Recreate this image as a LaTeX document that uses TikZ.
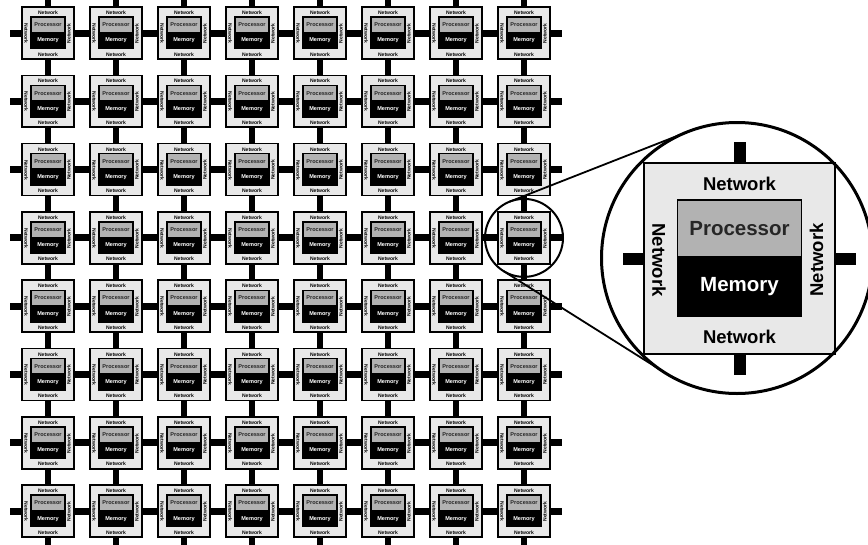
\documentclass[tikz,border=0pt]{standalone}
\usepackage{fontspec}
\setmainfont{Liberation Sans}
\usetikzlibrary{positioning,calc}

\definecolor{tilegray}{gray}{0.91}
\definecolor{procgray}{gray}{0.70}

% one processing element, drawn at (0,0) at full size
\newcommand{\cputile}[1]{%
  \node[tilebox] (#1) at (0,0) {};
  \node[procbox] (#1-proc) at (0,-30) {Processor};
  \node[membox, below=0pt of #1-proc] (#1-mem) {Memory};
  \node[netlabel] (#1-nt) at (0,-74.5) {Network};
  \node[netlabel] (#1-nb) at (0,78) {Network};
  \node[netlabel, rotate=-90] (#1-nl) at (-80.5,1.5) {Network};
  \node[netlabel, rotate=90] (#1-nr) at (77,1.5) {Network};
}

\begin{document}
\begin{tikzpicture}[
  x=1pt, y=-1pt,
  tilebox/.style={draw, fill=tilegray, line width=1.6pt, inner sep=0pt,
                  outer sep=0pt, minimum size=191pt},
  procbox/.style={draw, fill=procgray, line width=1.4pt, inner sep=0pt,
                  outer sep=0pt, minimum width=124pt, minimum height=57pt,
                  text=black!85, font=\fontsize{20.5}{22}\selectfont\bfseries},
  membox/.style={draw, fill=black, line width=1.4pt, inner sep=0pt,
                 outer sep=0pt, minimum width=124pt, minimum height=59pt,
                 text=white, font=\fontsize{20.5}{22}\selectfont\bfseries},
  netlabel/.style={inner sep=0pt, font=\fontsize{18.5}{20}\selectfont\bfseries},
  hlink/.style={line width=7pt},
  vlink/.style={line width=5.5pt},
  bigstub/.style={line width=12pt},
  lens/.style={draw, circle, inner sep=0pt, outer sep=0pt, line width=2pt}
]
\useasboundingbox (0,0) rectangle (868,544);
\clip (0,0) rectangle (868,544);

% the 8x8 array
\foreach \i in {0,...,7}
  \foreach \j in {0,...,7} {
    \begin{scope}[shift={(48+68*\i,33+68.3*\j)}, scale=0.272, transform shape]
      \cputile{tile-\i-\j}
    \end{scope}
  }

% links between neighbours
\foreach \j in {0,...,7} {
  \draw[hlink] (tile-0-\j.west) -- ++(-12,0);
  \draw[hlink] (tile-7-\j.east) -- ++(12,0);
  \draw[vlink] (tile-\j-0.north) -- ++(0,-12);
  \draw[vlink] (tile-\j-7.south) -- ++(0,12);
  \foreach \i [evaluate=\i as \k using int(\i+1)] in {0,...,6} {
    \draw[hlink] (tile-\i-\j.east) -- (tile-\k-\j.west);
    \draw[vlink] (tile-\j-\i.south) -- (tile-\j-\k.north);
  }
}

% enlarged element
\begin{scope}[shift={(739.5,258.5)}]
  \cputile{big}
\end{scope}
\draw[bigstub] (big.north) -- ++(0,-21);
\draw[bigstub] (big.south) -- ++(0,21);
\draw[bigstub] (big.west) -- ++(-21,0);
\draw[bigstub] (big.east) -- ++(21,0);

% magnifier
\node[lens, minimum size=78pt] (spot) at (tile-7-3) {};
\node[lens, line width=3pt, minimum size=271pt] (loupe) at (737,258) {};
\coordinate (focus) at ($(spot)!-0.404!(loupe)$);
\draw[line width=1.8pt] (tangent cs:node=spot,point={(focus)},solution=1)
  -- (tangent cs:node=loupe,point={(focus)},solution=1);
\draw[line width=1.8pt] (tangent cs:node=spot,point={(focus)},solution=2)
  -- (tangent cs:node=loupe,point={(focus)},solution=2);
\end{tikzpicture}
\end{document}
